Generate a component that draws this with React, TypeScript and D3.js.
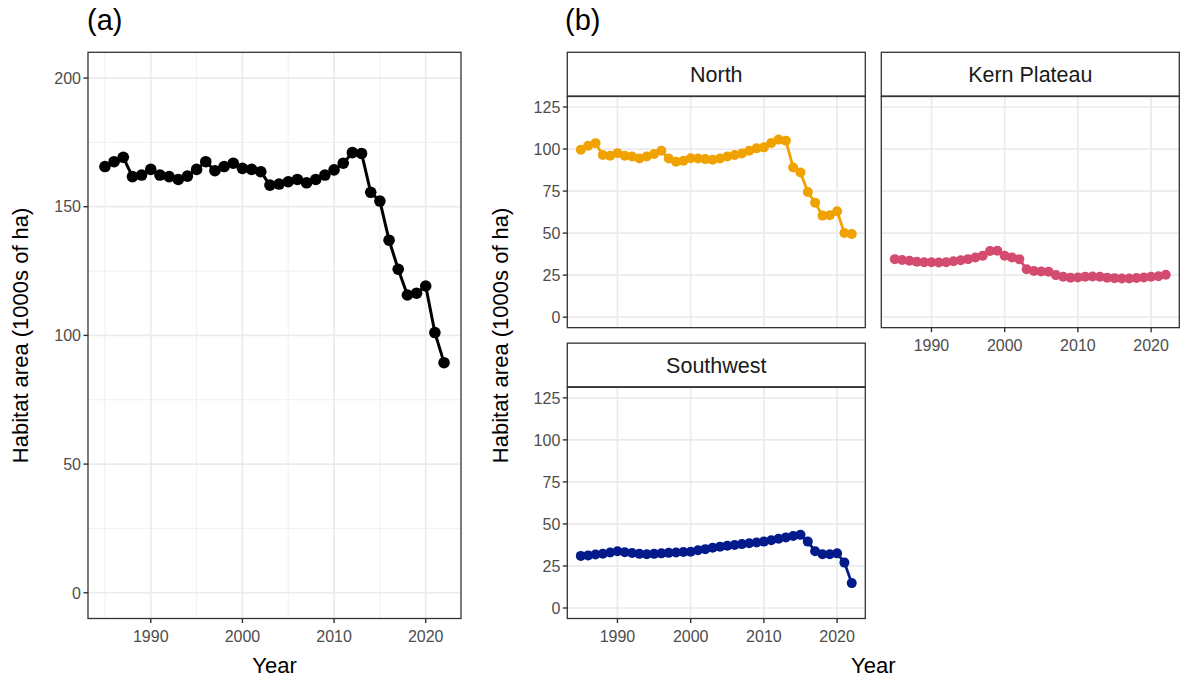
import React from "react";
import * as d3 from "d3";

const years = [1985,1986,1987,1988,1989,1990,1991,1992,1993,1994,1995,1996,1997,1998,1999,2000,2001,2002,2003,2004,2005,2006,2007,2008,2009,2010,2011,2012,2013,2014,2015,2016,2017,2018,2019,2020,2021,2022];

const totalArea = [165.6,167.5,169.2,161.7,162.3,164.5,162.3,161.7,160.6,161.9,164.5,167.5,164,165.6,166.9,164.9,164.5,163.6,158.4,158.8,159.7,160.6,159.3,160.6,162.3,164.3,166.9,171,170.7,155.6,152.2,137,125.7,115.7,116.4,119.2,101.1,89.4];

const northArea = [99.6,102,103.5,96.4,96,97.5,96,95.6,94.4,95.6,97,99,94.4,92.4,93,94.5,94.4,94,93.6,94.4,95.6,96.4,97.3,99,100.4,101,103.6,105.6,105,89,86,74.4,68,60.4,60.6,63,50,49.5];

const kernArea = [34.5,34,33.5,33,32.7,32.7,32.5,32.7,33.2,33.8,34.5,35.5,36.5,39.3,39.5,36.5,35.5,34.5,28.5,27.5,27.2,27,25,24,23.5,23.6,24,24.2,24,23.5,23.2,23,23,23.3,23.6,24,24.3,25.2];

const southwestArea = [31,31.3,31.8,32.3,33,33.8,33.2,32.7,32.2,32,32.2,32.5,32.8,33,33.3,33.5,34.3,35,35.8,36.5,37,37.5,38,38.5,39,39.5,40.3,41.2,42,42.8,43.5,39.5,33.8,32,32,32.5,27,14.8];

const xTicks = [1990, 2000, 2010, 2020];
const xMinorTicks = [1985, 1995, 2005, 2015];
const yTicksA = [0, 50, 100, 150, 200];
const yMinorA = [25, 75, 125, 175];
const yTicksB = [0, 25, 50, 75, 100, 125];

const FONT = "'Liberation Sans', Arial, Helvetica, sans-serif";
const TICK_FS = 16;
const TITLE_FS = 22;
const xDomain: [number, number] = [1983.15, 2023.85];

type PanelProps = {
  x0: number; y0: number; w: number; h: number;
  yDomain: [number, number];
  yTicks: number[];
  yMinor?: number[];
  xMinor?: number[];
  values: number[];
  color: string;
  showX: boolean;
  showY: boolean;
  r: number;
  lw: number;
};

function Panel(p: PanelProps) {
  const x = d3.scaleLinear().domain(xDomain).range([p.x0, p.x0 + p.w]);
  const y = d3.scaleLinear().domain(p.yDomain).range([p.y0 + p.h, p.y0]);
  const line = d3.line<number>().x((_, i) => x(years[i])).y((v) => y(v));
  const pts = p.values.map((v, i) => ({ x: x(years[i]), y: y(v) }));
  return (
    <g>
      <rect x={p.x0} y={p.y0} width={p.w} height={p.h} fill="white" />
      {(p.yMinor || []).map((t) => (
        <line key={"ym" + t} x1={p.x0} x2={p.x0 + p.w} y1={y(t)} y2={y(t)} stroke="#EBEBEB" strokeWidth={0.8} />
      ))}
      {(p.xMinor || []).map((t) => (
        <line key={"xm" + t} x1={x(t)} x2={x(t)} y1={p.y0} y2={p.y0 + p.h} stroke="#EBEBEB" strokeWidth={0.8} />
      ))}
      {p.yTicks.map((t) => (
        <line key={"yg" + t} x1={p.x0} x2={p.x0 + p.w} y1={y(t)} y2={y(t)} stroke="#EBEBEB" strokeWidth={1.7} />
      ))}
      {xTicks.map((t) => (
        <line key={"xg" + t} x1={x(t)} x2={x(t)} y1={p.y0} y2={p.y0 + p.h} stroke="#EBEBEB" strokeWidth={1.7} />
      ))}
      <path d={line(p.values) || ""} fill="none" stroke={p.color} strokeWidth={p.lw} strokeLinejoin="round" />
      {pts.map((q, i) => (
        <circle key={i} cx={q.x} cy={q.y} r={p.r} fill={p.color} />
      ))}
      <rect x={p.x0} y={p.y0} width={p.w} height={p.h} fill="none" stroke="#333333" strokeWidth={1.3} />
      {p.showY && p.yTicks.map((t) => (
        <g key={"yt" + t}>
          <line x1={p.x0 - 4.5} x2={p.x0} y1={y(t)} y2={y(t)} stroke="#333333" strokeWidth={1.4} />
          <text x={p.x0 - 7} y={y(t)} dy="0.36em" textAnchor="end" fontSize={TICK_FS} fill="#4D4D4D" fontFamily={FONT}>{t}</text>
        </g>
      ))}
      {p.showX && xTicks.map((t) => (
        <g key={"xt" + t}>
          <line x1={x(t)} x2={x(t)} y1={p.y0 + p.h} y2={p.y0 + p.h + 4.5} stroke="#333333" strokeWidth={1.4} />
          <text x={x(t)} y={p.y0 + p.h + 18} dy="0.36em" textAnchor="middle" fontSize={TICK_FS} fill="#4D4D4D" fontFamily={FONT}>{t}</text>
        </g>
      ))}
    </g>
  );
}

function Strip({ x0, y0, w, h, label }: { x0: number; y0: number; w: number; h: number; label: string }) {
  return (
    <g>
      <rect x={x0} y={y0} width={w} height={h} fill="white" stroke="#333333" strokeWidth={1.3} />
      <line x1={x0} x2={x0 + w} y1={y0 + h} y2={y0 + h} stroke="#333333" strokeWidth={2} />
      <text x={x0 + w / 2} y={y0 + h / 2} dy="0.36em" textAnchor="middle" fontSize={21.5} fill="#1A1A1A" fontFamily={FONT}>{label}</text>
    </g>
  );
}

export default function App() {
  const top = 52.3;
  const bottom = 618.5;
  const stripH = 44.2;
  const rowGap = 15.5;
  const bLeft = 567.3;
  const bW = 298;
  const colGap = 16;
  const panelH = (bottom - top - 2 * stripH - rowGap) / 2;
  const row2Strip = top + stripH + panelH + rowGap;
  return (
    <div style={{ position: "absolute", left: 0, top: 0 }}>
      <svg width={1182} height={681} style={{ display: "block", background: "white" }}>
        <text x={87} y={30} fontSize={29} fill="#000" fontFamily={FONT}>(a)</text>
        <text x={565} y={30} fontSize={29} fill="#000" fontFamily={FONT}>(b)</text>

        <Panel x0={88} y0={top} w={373} h={bottom - top} yDomain={[-10, 210]} yTicks={yTicksA} yMinor={yMinorA} xMinor={xMinorTicks}
          values={totalArea} color="#000000" showX={true} showY={true} r={5.8} lw={3} />
        <text x={274.5} y={673} textAnchor="middle" fontSize={TITLE_FS} fill="#000" fontFamily={FONT}>Year</text>
        <text transform={`translate(28, ${(top + bottom) / 2}) rotate(-90)`} textAnchor="middle" fontSize={TITLE_FS} fill="#000" fontFamily={FONT}>Habitat area (1000s of ha)</text>

        <Strip x0={bLeft} y0={top} w={bW} h={stripH} label="North" />
        <Panel x0={bLeft} y0={top + stripH} w={bW} h={panelH} yDomain={[-6.25, 131.25]} yTicks={yTicksB}
          values={northArea} color="#EFA200" showX={false} showY={true} r={5} lw={2.8} />

        <Strip x0={bLeft + bW + colGap} y0={top} w={bW} h={stripH} label="Kern Plateau" />
        <Panel x0={bLeft + bW + colGap} y0={top + stripH} w={bW} h={panelH} yDomain={[-6.25, 131.25]} yTicks={yTicksB}
          values={kernArea} color="#D34C70" showX={true} showY={false} r={5} lw={2.8} />

        <Strip x0={bLeft} y0={row2Strip} w={bW} h={stripH} label="Southwest" />
        <Panel x0={bLeft} y0={row2Strip + stripH} w={bW} h={panelH} yDomain={[-6.25, 131.25]} yTicks={yTicksB}
          values={southwestArea} color="#021A8A" showX={true} showY={true} r={5} lw={2.8} />

        <text x={bLeft + (2 * bW + colGap) / 2} y={673} textAnchor="middle" fontSize={TITLE_FS} fill="#000" fontFamily={FONT}>Year</text>
        <text transform={`translate(508, ${(top + bottom) / 2}) rotate(-90)`} textAnchor="middle" fontSize={TITLE_FS} fill="#000" fontFamily={FONT}>Habitat area (1000s of ha)</text>
      </svg>
    </div>
  );
}
